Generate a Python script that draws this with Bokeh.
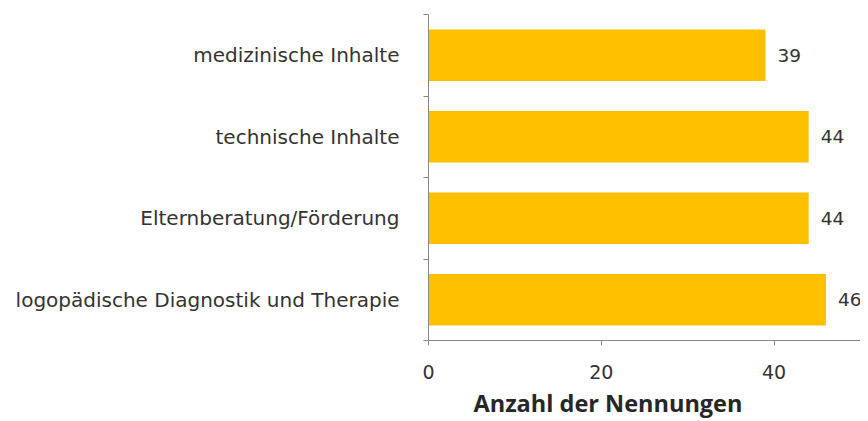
from bokeh.plotting import figure
from bokeh.models import ColumnDataSource, FixedTicker, LabelSet, Title, Range1d
from bokeh.core.properties import value
from bokeh.embed import file_html
from bokeh.resources import INLINE

categories = ["medizinische Inhalte", "technische Inhalte",
              "Elternberatung/Förderung", "logopädische Diagnostik und Therapie"]
values = [39, 44, 44, 46]
x_ticks = [0, 20, 40]
x_title = "Anzahl der Nennungen"

n = len(categories)
ypos = [n - 0.5 - i for i in range(n)]
src = ColumnDataSource(dict(y=ypos, v=values, lab=[str(v) for v in values]))

FONT = "DejaVu Sans"
TXT = "#333333"

p = figure(width=860, height=421, output_backend="svg", toolbar_location=None,
           x_range=Range1d(0, 50), y_range=Range1d(0, n),
           min_border_left=428, min_border_right=0, min_border_top=14, min_border_bottom=81)
p.outline_line_color = None
p.xgrid.grid_line_color = None
p.ygrid.grid_line_color = None
p.background_fill_color = "white"
p.border_fill_color = "white"

p.hbar(y="y", right="v", left=0, height=0.63, source=src,
       fill_color="#FFC000", line_color=None)

ya = p.yaxis[0]
ya.ticker = FixedTicker(ticks=ypos, minor_ticks=list(range(n + 1)))
ya.major_label_overrides = {y: c for y, c in zip(ypos, categories)}
ya.major_tick_line_color = None
ya.major_tick_out = 0
ya.major_tick_in = 0
ya.minor_tick_out = 5
ya.minor_tick_in = 0
ya.minor_tick_line_color = "#878787"
ya.axis_line_color = "#878787"
ya.major_label_standoff = 24
ya.major_label_text_font = FONT
ya.major_label_text_font_size = "20px"
ya.major_label_text_color = TXT

xa = p.xaxis[0]
xa.ticker = FixedTicker(ticks=x_ticks)
xa.minor_tick_line_color = None
xa.major_tick_out = 5
xa.major_tick_in = 0
xa.major_tick_line_color = "#878787"
xa.axis_line_color = "#878787"
xa.major_label_standoff = 19
xa.major_label_text_font = FONT
xa.major_label_text_font_size = "19px"
xa.major_label_text_color = TXT

labels = LabelSet(x="v", y="y", text="lab", source=src, x_offset=12,
                  text_baseline="middle", text_align="left",
                  text_font=value(FONT), text_font_size=value("18.5px"),
                  text_color=value(TXT))
p.add_layout(labels)

p.add_layout(Title(text=x_title, align="left", offset=45, standoff=6,
                   text_font="Open Sans", text_font_size="23.5px",
                   text_font_style="bold", text_color="#262626"), "below")

open("out.html", "w").write(file_html(p, INLINE))
